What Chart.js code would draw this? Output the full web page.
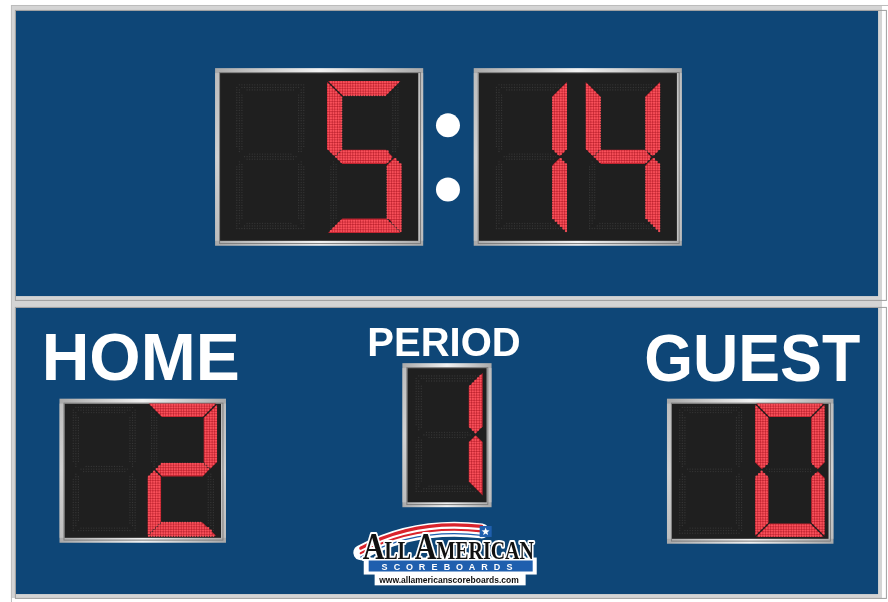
<!DOCTYPE html>
<html><head><meta charset="utf-8">
<script src="https://cdn.jsdelivr.net/npm/chart.js@4.4.0/dist/chart.umd.min.js"></script>
<style>html,body{margin:0;padding:0;background:#fff;overflow:hidden}#wrap{width:888px;height:602px}</style>
</head><body>
<div id="wrap"><canvas id="c" width="888" height="602"></canvas></div>
<script>
// ---- data ----
const clockDigits  = [' ', '5', '1', '4'];   // 5:14
const homeDigits   = [' ', '2'];
const periodDigits = ['1'];
const guestDigits  = [' ', '0'];
const panelLabels  = ['HOME', 'PERIOD', 'GUEST'];
const logoTexts    = ['ALL AMERICAN', 'SCOREBOARDS', 'www.allamericanscoreboards.com'];

// ---- seven segment map ----
const SEGMENTS = {'0':'abcdef','1':'bc','2':'abdeg','3':'abcdg','4':'bcfg','5':'acdfg','6':'acdefg','7':'abc','8':'abcdefg','9':'abcdfg',' ':''};

// ---- layout (style only) ----
const DISPLAYS = [
  {box:[213,65,210,180], digits:[clockDigits[0],clockDigits[1]], cells:[[231,78],[326,78]], w:75, h:154, t:14.5},
  {box:[474,65,210,180], digits:[clockDigits[2],clockDigits[3]], cells:[[493,78],[587,78]], w:75, h:154, t:14.5},
  {box:[56,400,168,146], digits:homeDigits, cells:[[66,405],[145,405]], w:70, h:134, t:13.5},
  {box:[402,364,90,146], digits:periodDigits, cells:[[412,373]], w:71, h:126, t:14},
  {box:[669,400,168,147], digits:guestDigits, cells:[[678,405],[758,405]], w:70, h:135, t:13.5}
];
const PITCH = 2.6;

function segPoly(s, X, Y, W, H, T){
  const g = 1.0, m = Y + H/2, h2 = T/2;
  const fx = p => [X + W - (p[0]-X), p[1]];
  const fy = p => [p[0], 2*m - p[1]];
  const a = [[X+g,Y],[X+W-g,Y],[X+W-T-g,Y+T],[X+T+g,Y+T]];
  const f = [[X,Y+g],[X+T,Y+T+g],[X+T,m-h2-g],[X+h2,m-g],[X,m-h2-g]];
  const gg = [[X+h2+g*1.5,m],[X+T+g,m-h2],[X+W-T-g,m-h2],[X+W-h2-g*1.5,m],[X+W-T-g,m+h2],[X+T+g,m+h2]];
  switch(s){
    case 'a': return a;
    case 'd': return a.map(fy);
    case 'f': return f;
    case 'b': return f.map(fx);
    case 'e': return f.map(fy);
    case 'c': return f.map(fx).map(fy);
    case 'g': return gg;
  }
}
function inside(x, y, poly){
  let c = false;
  for (let i = 0, j = poly.length-1; i < poly.length; j = i++){
    const [xi, yi] = poly[i], [xj, yj] = poly[j];
    if ((yi > y) !== (yj > y) && x < (xj-xi)*(y-yi)/(yj-yi) + xi) c = !c;
  }
  return c;
}
function dots(poly, X, Y, pitch){
  const out = [];
  const xs = poly.map(p=>p[0]), ys = poly.map(p=>p[1]);
  const i0 = Math.floor((Math.min(...xs)-X)/pitch)-1, i1 = Math.ceil((Math.max(...xs)-X)/pitch)+1;
  const j0 = Math.floor((Math.min(...ys)-Y)/pitch)-1, j1 = Math.ceil((Math.max(...ys)-Y)/pitch)+1;
  for (let j = j0; j <= j1; j++) for (let i = i0; i <= i1; i++){
    const x = X + pitch*(i+0.5), y = Y + pitch*(j+0.5);
    if (inside(x, y, poly)) out.push({x, y});
  }
  return out;
}
function shrink(poly, k){
  const cx = poly.reduce((s,p)=>s+p[0],0)/poly.length, cy = poly.reduce((s,p)=>s+p[1],0)/poly.length;
  return poly.map(p => [cx + (p[0]-cx)*k.x, cy + (p[1]-cy)*k.y]);
}

const litPoints = [], ghostPoints = [], litPolys = [];
DISPLAYS.forEach(d => {
  d.digits.forEach((ch, k) => {
    const [X, Y] = d.cells[k];
    const on = SEGMENTS[ch] || '';
    'abcdefg'.split('').forEach(s => {
      const poly = segPoly(s, X, Y, d.w, d.h, d.t);
      if (on.includes(s)) { litPolys.push(poly); litPoints.push(...dots(poly, X, Y, PITCH)); }
      else {
        const horiz = 'adg'.includes(s);
        ghostPoints.push(...dots(shrink(poly, horiz ? {x:0.95,y:0.55} : {x:0.55,y:0.95}), X, Y, PITCH));
      }
    });
  });
});

// ---- drawing plugin ----
const board = {
  id: 'board',
  beforeDraw(chart){
    const ctx = chart.ctx, xs = chart.scales.x, ys = chart.scales.y;
    const px = v => xs.getPixelForValue(v), py = v => ys.getPixelForValue(v);
    const rect = (x,y,w,h) => [px(x), py(y), px(x+w)-px(x), py(y+h)-py(y)];
    ctx.save();
    ctx.fillStyle = '#ffffff'; ctx.fillRect(0,0,chart.width,chart.height);
    // outer silver frame
    ctx.fillStyle = '#d4d4d4'; ctx.fillRect(...rect(7,1,879,601));
    ctx.strokeStyle = '#bcbcbc'; ctx.lineWidth = 1; ctx.strokeRect(px(7)+0.5, py(1)+0.5, 878, 601);
    // blue panels
    [[12,7,870,289],[12,308,870,290]].forEach(r => {
      ctx.fillStyle = '#0e4677'; ctx.fillRect(...rect(...r));
      ctx.strokeStyle = '#9e9e9e'; ctx.strokeRect(px(r[0])-0.5, py(r[1])-0.5, r[2]+1, r[3]+1);
    });
    // display boxes
    DISPLAYS.forEach(d => {
      const [x,y,w,h] = d.box;
      const gr = ctx.createLinearGradient(px(x),0,px(x+w),0);
      gr.addColorStop(0,'#a9a9a9'); gr.addColorStop(0.5,'#f2f2f2'); gr.addColorStop(1,'#a9a9a9');
      ctx.fillStyle = gr; ctx.fillRect(...rect(x,y,w,h));
      const gv = ctx.createLinearGradient(0,py(y),0,py(y+h));
      gv.addColorStop(0,'rgba(200,200,200,0.6)'); gv.addColorStop(0.5,'rgba(235,235,235,0.6)'); gv.addColorStop(1,'rgba(200,200,200,0.6)');
      ctx.fillStyle = gv; ctx.fillRect(...rect(x,y+5,5,h-10)); ctx.fillRect(...rect(x+w-5,y+5,5,h-10));
      ctx.fillStyle = '#1f1f1f'; ctx.fillRect(...rect(x+5,y+5,w-10,h-10));
      ctx.strokeStyle = '#7d7d7d'; ctx.lineWidth = 1; ctx.strokeRect(px(x+5)-0.5, py(y+5)-0.5, w-9, h-9);
    });
    // colon
    ctx.fillStyle = '#ffffff';
    [123,188].forEach(cy => { ctx.beginPath(); ctx.arc(px(448), py(cy), 12, 0, Math.PI*2); ctx.fill(); });
    // labels
    ctx.fillStyle = '#ffffff'; ctx.textBaseline = 'alphabetic';
    ctx.font = 'bold 66px "Liberation Sans", Arial, sans-serif';
    ctx.textAlign = 'left'; ctx.fillText(panelLabels[0], px(38), py(381), 198);
    ctx.textAlign = 'left'; ctx.fillText(panelLabels[2], px(646), py(382), 216);
    ctx.font = 'bold 40px "Liberation Sans", Arial, sans-serif';
    ctx.textAlign = 'center'; ctx.fillText(panelLabels[1], px(444), py(357), 157);
    drawLogo(ctx, px, py);
    ctx.restore();
  },
  beforeDatasetsDraw(chart){
    const ctx = chart.ctx, xs = chart.scales.x, ys = chart.scales.y;
    ctx.save();
    ctx.fillStyle = '#bf2430';
    litPolys.forEach(poly => {
      ctx.beginPath();
      poly.forEach((p,i) => { const X = xs.getPixelForValue(p[0]), Y = ys.getPixelForValue(p[1]); i ? ctx.lineTo(X,Y) : ctx.moveTo(X,Y); });
      ctx.closePath(); ctx.fill();
    });
    ctx.restore();
  }
};

function drawLogo(ctx, px, py){
  // swoosh
  ctx.lineCap = 'round';
  const sw = (off, color, lw) => {
    ctx.beginPath(); ctx.moveTo(px(360), py(556+off));
    ctx.quadraticCurveTo(px(415), py(526+off), px(482), py(534+off));
    ctx.strokeStyle = color; ctx.lineWidth = lw; ctx.stroke();
  };
  sw(0,'#ffffff',15);
  sw(-4.5,'#d9232c',3.2);
  sw(0.5,'#d9232c',2.2);
  sw(4.5,'#1f5fae',1.2);
  // star box
  ctx.fillStyle = '#1f5fae'; ctx.fillRect(px(480), py(529), 12, 11);
  ctx.fillStyle = '#ffffff'; ctx.beginPath();
  for (let i = 0; i < 10; i++){
    const r = i%2 ? 1.8 : 4.2, ang = -Math.PI/2 + i*Math.PI/5;
    const x = px(486) + r*Math.cos(ang), y = py(534.8) + r*Math.sin(ang);
    i ? ctx.lineTo(x,y) : ctx.moveTo(x,y);
  }
  ctx.closePath(); ctx.fill();
  // white base for band + url
  ctx.fillStyle = '#ffffff';
  ctx.fillRect(px(363), py(561), 173, 17);
  ctx.fillRect(px(374), py(576), 151, 13);
  // ALL AMERICAN
  const words = logoTexts[0].split(' ');
  const pieces = [];
  words.forEach((w, wi) => {
    pieces.push([w[0], 38]); pieces.push([w.slice(1), 25]);
    if (wi < words.length-1) pieces.push([' ', 18]);
  });
  const fnt = s => 'bold ' + s + 'px "Liberation Serif", "DejaVu Serif", serif';
  let total = 0;
  pieces.forEach(p => { ctx.font = fnt(p[1]); total += ctx.measureText(p[0]).width; });
  const sc = 171 / total;
  ctx.save();
  ctx.translate(px(362), py(562));
  ctx.scale(sc, 1);
  ctx.textAlign = 'left'; ctx.textBaseline = 'alphabetic'; ctx.lineJoin = 'round';
  let cx = 0;
  pieces.forEach(p => {
    ctx.font = fnt(p[1]);
    ctx.strokeStyle = '#ffffff'; ctx.lineWidth = 4; ctx.strokeText(p[0], cx, 0);
    cx += ctx.measureText(p[0]).width;
  });
  cx = 0;
  pieces.forEach(p => {
    ctx.font = fnt(p[1]);
    ctx.fillStyle = '#111111'; ctx.fillText(p[0], cx, 0);
    cx += ctx.measureText(p[0]).width;
  });
  ctx.restore();
  // band
  ctx.fillStyle = '#1f5fae'; ctx.fillRect(px(368), py(564), 164, 11);
  ctx.fillStyle = '#ffffff'; ctx.font = 'bold 9px "Liberation Sans", Arial, sans-serif'; ctx.textAlign = 'center';
  const letters = logoTexts[1].split('');
  letters.forEach((l, i) => ctx.fillText(l, px(384 + i*12.6), py(573.3)));
  // url
  ctx.fillStyle = '#111111'; ctx.font = 'bold 8.5px "Liberation Sans", Arial, sans-serif';
  ctx.fillText(logoTexts[2], px(449), py(586.5), 142);
}

new Chart(document.getElementById('c'), {
  type: 'scatter',
  data: { datasets: [
    { label: 'ghost', data: ghostPoints, pointRadius: 0.65, pointBackgroundColor: '#373737', pointBorderWidth: 0, borderWidth: 0 },
    { label: 'lit', data: litPoints, pointRadius: 1.15, pointBackgroundColor: '#f8505a', pointBorderWidth: 0, borderWidth: 0 }
  ]},
  options: {
    responsive: false, animation: false, events: [],
    layout: { padding: 0 },
    plugins: { legend: { display: false }, tooltip: { enabled: false } },
    scales: {
      x: { type: 'linear', min: 0, max: 888, display: false },
      y: { type: 'linear', min: 0, max: 602, reverse: true, display: false }
    }
  },
  plugins: [board]
});
</script>
</body></html>
